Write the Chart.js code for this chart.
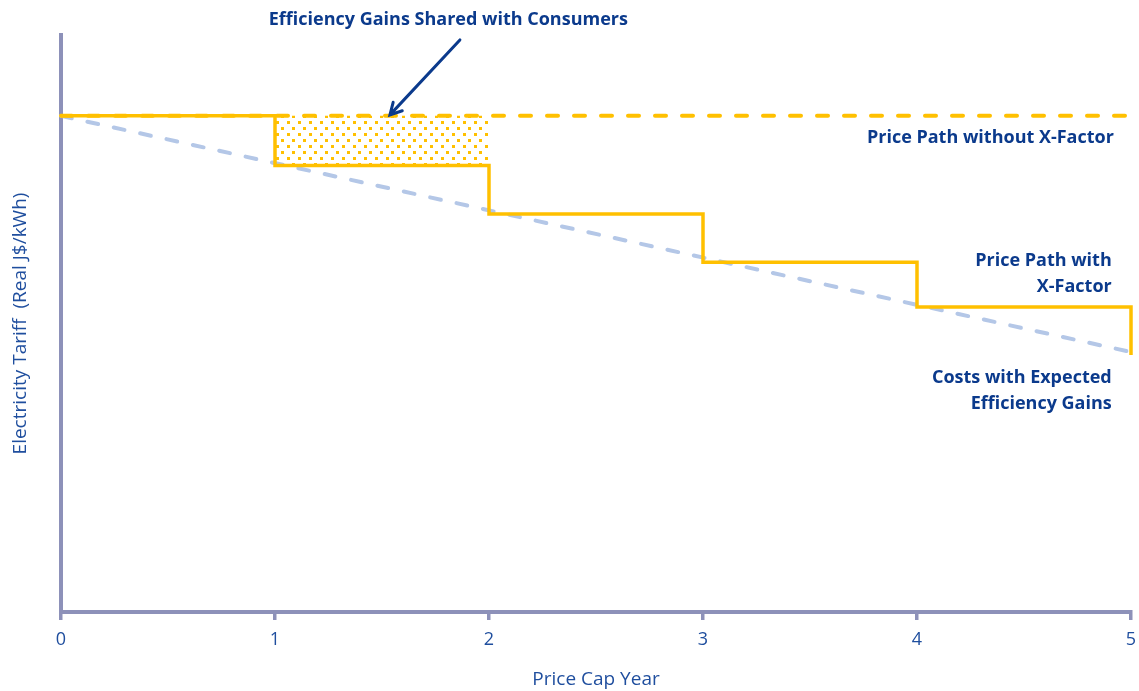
<!DOCTYPE html>
<html>
<head>
<meta charset="utf-8">
<script src="https://cdn.jsdelivr.net/npm/chart.js@4.4.1/dist/chart.umd.min.js"></script>
<style>
  html, body { margin: 0; padding: 0; background: #fff; }
  #wrap { width: 1139px; height: 691px; }
</style>
</head>
<body>
<div id="wrap"><canvas id="tariffChart"></canvas></div>
<script>
// price cap years and the three paths (real tariff, index units)
const years         = [0, 1, 2, 3, 4, 5]
const priceWithX    = [10, 9.0, 8.02, 7.05, 6.15, 5.18]
const withoutXYears = [0, 5]
const priceWithoutX = [10, 10]
const costYears     = [0, 5]
const costExpected  = [10, 5.24]
const sharedYears   = [1, 2]
const xTickValues   = [0, 1, 2, 3, 4, 5]

const GOLD  = '#FFC000'
const NAVY  = '#0B3A8C'
const BLUE  = '#1F4E9E'
const AXIS  = '#8D91B9'
const COSTC = '#B4C7E7'
const FONT  = '"Open Sans"'

const notes = [
    { lines: ['Efficiency Gains Shared with Consumers'], x: 1.81, y: 11.93, align: 'center' },
    { lines: ['Price Path without X-Factor'], x: 4.92, y: 9.55, align: 'right' },
    { lines: ['Price Path with', 'X-Factor'], x: 4.91, y: 7.07, align: 'right' },
    { lines: ['Costs with Expected', 'Efficiency Gains'], x: 4.91, y: 4.72, align: 'right' }
]
const arrow = { from: { x: 1.864, y: 11.53 }, to: { x: 1.537, y: 10.02 } }

const pts = (xs, ys) => xs.map((x, i) => ({ x, y: ys[i] }))

// dotted fill for the shared gains block
function dotPattern() {
    const c = document.createElement('canvas')
    c.width = 11
    c.height = 12
    const g = c.getContext('2d')
    g.fillStyle = GOLD
    g.fillRect(1, 1, 3, 3)
    g.fillRect(6, 7, 3, 3)
    return g.createPattern(c, 'repeat')
}

const notesPlugin = {
    id: 'notes',
    afterDraw(chart) {
        const { ctx, scales: { x, y } } = chart
        ctx.save()
        ctx.fillStyle = NAVY
        ctx.font = 'bold 18px ' + FONT
        ctx.textBaseline = 'middle'
        notes.forEach(n => {
            ctx.textAlign = n.align
            n.lines.forEach((t, i) => {
                ctx.fillText(t, x.getPixelForValue(n.x), y.getPixelForValue(n.y) + i * 26)
            })
        })

        const x0 = x.getPixelForValue(arrow.from.x), y0 = y.getPixelForValue(arrow.from.y)
        const x1 = x.getPixelForValue(arrow.to.x),   y1 = y.getPixelForValue(arrow.to.y)
        const ang = Math.atan2(y1 - y0, x1 - x0)
        ctx.strokeStyle = NAVY
        ctx.lineWidth = 3
        ctx.lineCap = 'round'
        ctx.beginPath()
        ctx.moveTo(x0, y0)
        ctx.lineTo(x1, y1)
        ctx.moveTo(x1 - 13 * Math.cos(ang - 0.5), y1 - 13 * Math.sin(ang - 0.5))
        ctx.lineTo(x1, y1)
        ctx.lineTo(x1 - 13 * Math.cos(ang + 0.5), y1 - 13 * Math.sin(ang + 0.5))
        ctx.stroke()
        ctx.restore()
    }
}

new Chart(document.getElementById('tariffChart'), {
    type: 'line',
    data: {
        datasets: [
            {
                label: 'Price Path with X-Factor',
                data: pts(years, priceWithX),
                stepped: 'before',
                borderColor: GOLD,
                borderWidth: 3.5,
                pointRadius: 0,
                fill: false,
                clip: 8,
                order: 1
            },
            {
                label: 'Price Path without X-Factor',
                data: pts(withoutXYears, priceWithoutX),
                borderColor: GOLD,
                borderWidth: 4,
                borderDash: [11, 16],
                borderCapStyle: 'round',
                pointRadius: 0,
                fill: false,
                clip: 8,
                order: 2
            },
            {
                label: 'Costs with Expected Efficiency Gains',
                data: pts(costYears, costExpected),
                borderColor: COSTC,
                borderWidth: 4,
                borderDash: [11, 16],
                borderCapStyle: 'round',
                pointRadius: 0,
                fill: false,
                clip: 8,
                order: 3
            },
            {
                label: 'Efficiency Gains Shared with Consumers',
                data: pts(sharedYears, sharedYears.map(() => priceWithoutX[0])),
                borderWidth: 0,
                pointRadius: 0,
                backgroundColor: dotPattern(),
                fill: { value: priceWithX[1] },
                order: 4
            }
        ]
    },
    options: {
        responsive: true,
        maintainAspectRatio: false,
        animation: false,
        layout: { padding: { top: 35, right: 8, left: 0, bottom: 0 } },
        plugins: { legend: { display: false }, tooltip: { enabled: false } },
        scales: {
            x: {
                type: 'linear',
                min: 0,
                max: 5,
                afterBuildTicks: s => { s.ticks = xTickValues.map(v => ({ value: v })) },
                afterFit: s => {
                    s.height = 79
                    s.paddingLeft = 0
                    s.paddingRight = 0
                },
                grid: { drawOnChartArea: false, drawTicks: true, tickLength: 8, color: AXIS, lineWidth: 3.5 },
                border: { display: true, color: AXIS, width: 4 },
                ticks: { color: BLUE, font: { family: FONT, size: 18 }, padding: 9, maxRotation: 0 },
                title: {
                    display: true,
                    text: 'Price Cap Year',
                    color: BLUE,
                    font: { family: FONT, size: 19 },
                    padding: { top: 0, bottom: 0 }
                }
            },
            y: {
                min: 0,
                max: 11.63,
                afterFit: s => { s.width = 61 },
                grid: { display: false },
                border: { display: true, color: AXIS, width: 4 },
                ticks: { display: false },
                title: {
                    display: true,
                    text: 'Electricity Tariff  (Real J$/kWh)',
                    color: BLUE,
                    font: { family: FONT, size: 19 },
                    padding: { top: 9, bottom: 0 }
                }
            }
        }
    },
    plugins: [notesPlugin]
})
</script>
</body>
</html>
